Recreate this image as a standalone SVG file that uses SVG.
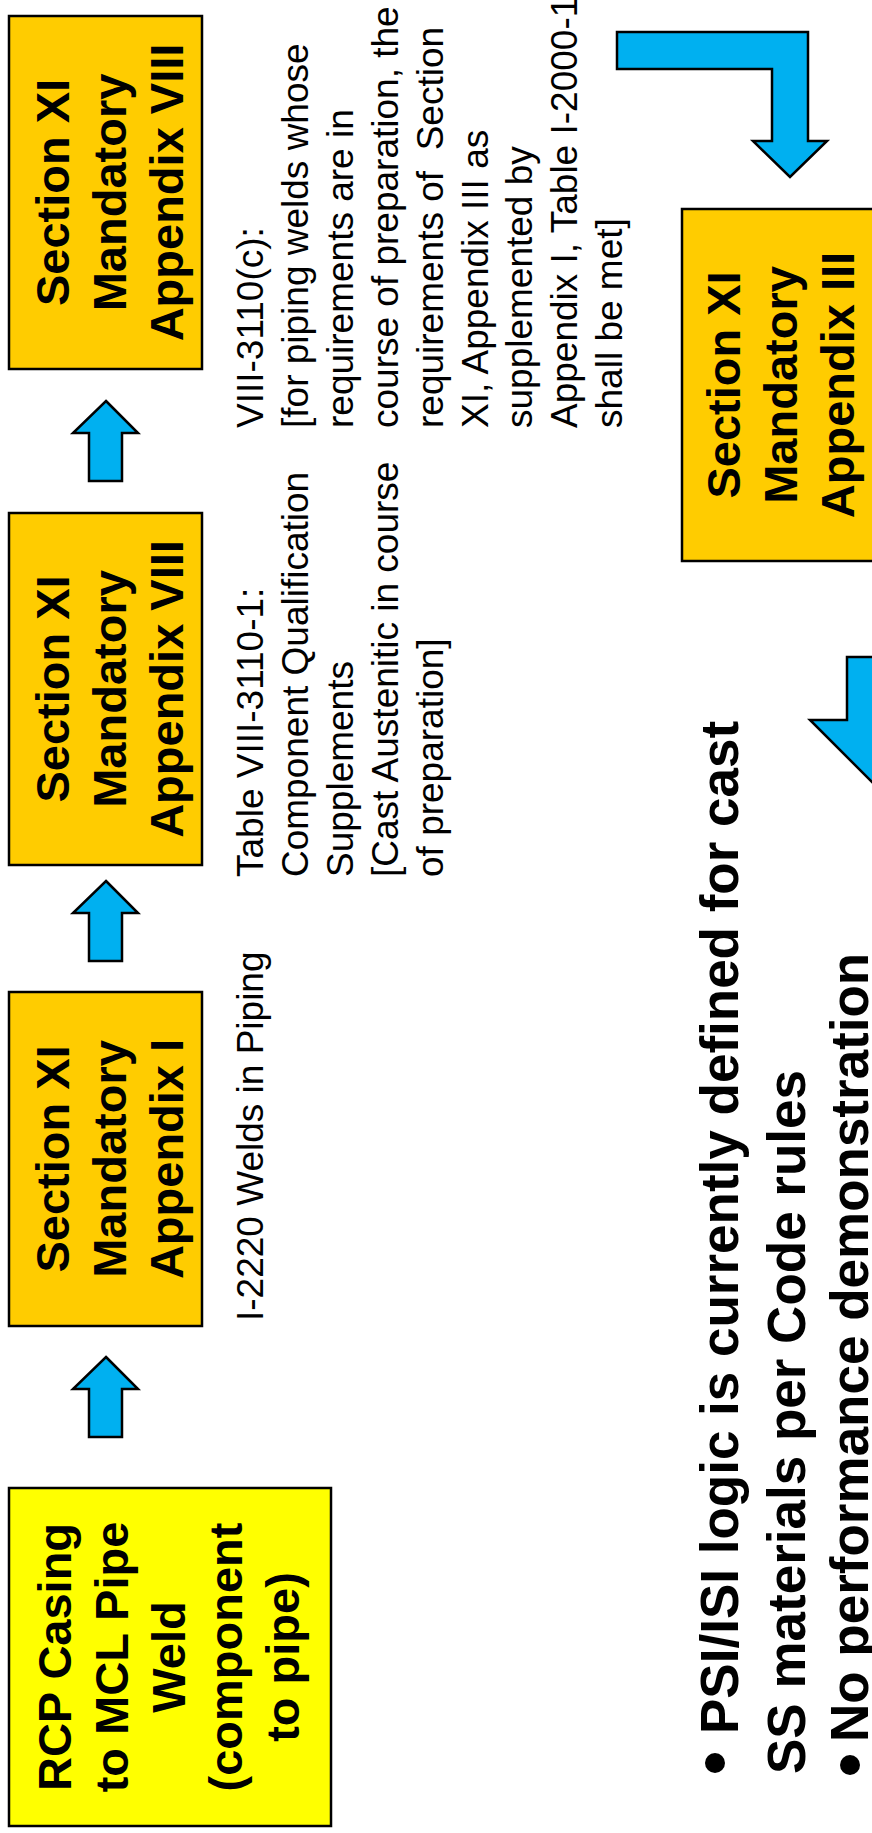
<svg xmlns="http://www.w3.org/2000/svg" width="872" height="1833" viewBox="0 0 872 1833">
<style>
.box{fill:#FFCC00;stroke:#000;stroke-width:2.5}
.ybox{fill:#FFFF00;stroke:#000;stroke-width:2.5}
.arrow{fill:#00B0F0;stroke:#000;stroke-width:2.5;stroke-linejoin:miter}
.bt{font-family:"Liberation Sans",Arial,sans-serif;font-weight:bold;font-size:47px;text-anchor:middle;fill:#000}
.nt{font-family:"Liberation Sans",Arial,sans-serif;font-size:37px;fill:#000}
.bl{font-family:"Liberation Sans",Arial,sans-serif;font-weight:bold;font-size:53px;fill:#000}
</style>
<rect width="872" height="1833" fill="#fff"/>

<g id="connectors">
<polygon class="arrow" points="106,401 138,433 122,433 122,481 89,481 89,433 73,433"/>
<polygon class="arrow" points="106,881 138,913 122,913 122,961 89,961 89,913 73,913"/>
<polygon class="arrow" points="106,1357 138,1389 122,1389 122,1437 89,1437 89,1389 73,1389"/>
<polygon class="arrow" points="617,32 808,32 808,141 827,141 790,177 753,141 772,141 772,69 617,69"/>
<polygon class="arrow" points="847,657 921,657 921,720 958,720 884,794 810,720 847,720"/>
</g>

<g id="node-rcp">
<rect class="ybox" x="9" y="1488" width="322" height="338"/>
<text class="bt" transform="translate(70.5,1657) rotate(-90)">RCP Casing</text>
<text class="bt" transform="translate(127.5,1657) rotate(-90)">to MCL Pipe</text>
<text class="bt" transform="translate(184.5,1657) rotate(-90)">Weld</text>
<text class="bt" transform="translate(241.5,1657) rotate(-90)">(component</text>
<text class="bt" transform="translate(298.5,1657) rotate(-90)">to pipe)</text>
</g>

<g id="node-appI">
<rect class="box" x="9" y="992" width="193" height="334"/>
<text class="bt" transform="translate(69,1159) rotate(-90)">Section XI</text>
<text class="bt" transform="translate(126,1159) rotate(-90)">Mandatory</text>
<text class="bt" transform="translate(183,1159) rotate(-90)">Appendix I</text>
</g>

<g id="node-appVIII-1">
<rect class="box" x="9" y="513" width="193" height="352"/>
<text class="bt" transform="translate(69,689) rotate(-90)">Section XI</text>
<text class="bt" transform="translate(126,689) rotate(-90)">Mandatory</text>
<text class="bt" transform="translate(183,689) rotate(-90)">Appendix VIII</text>
</g>

<g id="node-appVIII-2">
<rect class="box" x="9" y="16" width="193" height="353"/>
<text class="bt" transform="translate(69,192.5) rotate(-90)">Section XI</text>
<text class="bt" transform="translate(126,192.5) rotate(-90)">Mandatory</text>
<text class="bt" transform="translate(183,192.5) rotate(-90)">Appendix VIII</text>
</g>

<g id="node-appIII">
<rect class="box" x="682" y="209" width="193" height="352"/>
<text class="bt" transform="translate(740,385) rotate(-90)">Section XI</text>
<text class="bt" transform="translate(797,385) rotate(-90)">Mandatory</text>
<text class="bt" transform="translate(854,385) rotate(-90)">Appendix III</text>
</g>

<g id="note-I2220">
<text class="nt" transform="translate(263,1321) rotate(-90)">I-2220 Welds in Piping</text>
</g>

<g id="note-table">
<text class="nt" transform="translate(263,877) rotate(-90)">Table VIII-3110-1:</text>
<text class="nt" transform="translate(308,877) rotate(-90)">Component Qualification</text>
<text class="nt" transform="translate(353,877) rotate(-90)">Supplements</text>
<text class="nt" transform="translate(398,877) rotate(-90)">[Cast Austenitic in course</text>
<text class="nt" transform="translate(443,877) rotate(-90)">of preparation]</text>
</g>

<g id="note-3110c">
<text class="nt" transform="translate(263,428) rotate(-90)">VIII-3110(c):</text>
<text class="nt" transform="translate(308,428) rotate(-90)">[for piping welds whose</text>
<text class="nt" transform="translate(353,428) rotate(-90)">requirements are in</text>
<text class="nt" transform="translate(398,428) rotate(-90)">course of preparation, the</text>
<text class="nt" xml:space="preserve" transform="translate(443,428) rotate(-90)">requirements of  Section</text>
<text class="nt" transform="translate(488,428) rotate(-90)">XI, Appendix III as</text>
<text class="nt" transform="translate(532,428) rotate(-90)">supplemented by</text>
<text class="nt" transform="translate(577,428) rotate(-90)">Appendix I, Table I-2000-1</text>
<text class="nt" transform="translate(622,428) rotate(-90)">shall be met]</text>
</g>

<g id="bullets">
<circle cx="715" cy="1763" r="10" fill="#000"/>
<text class="bl" transform="translate(738,1734) rotate(-90)">PSI/ISI logic is currently defined for cast</text>
<text class="bl" transform="translate(805,1774) rotate(-90)">SS materials per Code rules</text>
<circle cx="850" cy="1765" r="10" fill="#000"/>
<text class="bl" transform="translate(868,1742) rotate(-90)">No performance demonstration</text>
</g>
</svg>
